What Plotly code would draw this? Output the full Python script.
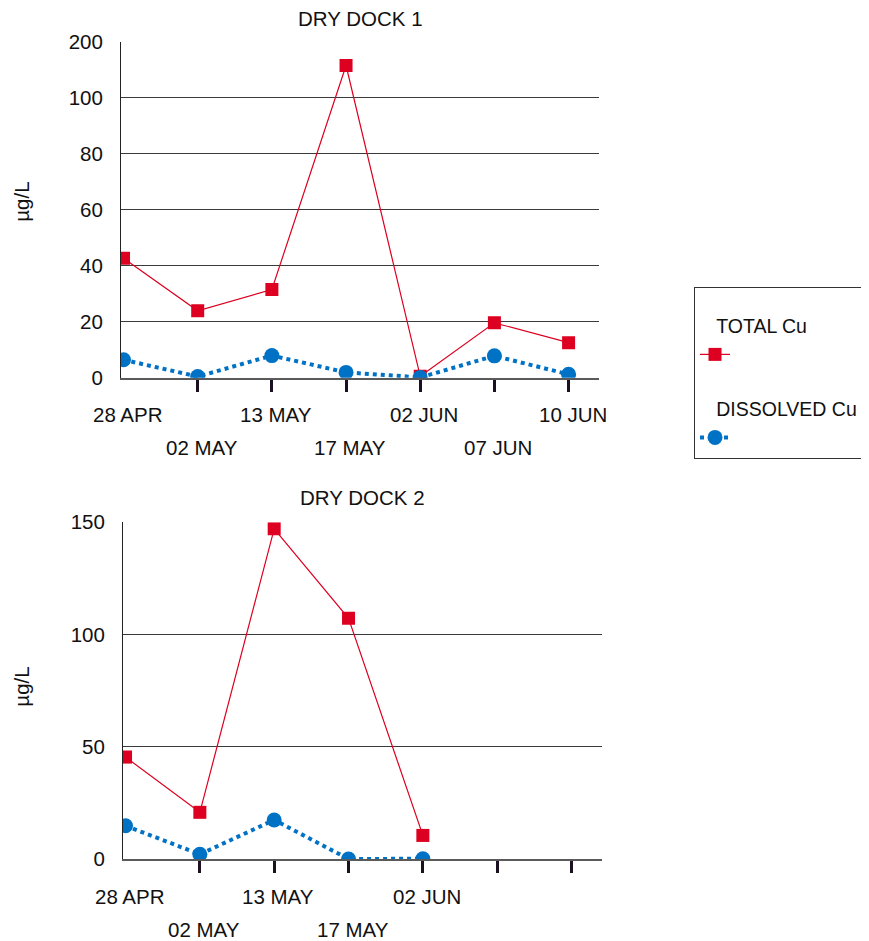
import plotly.graph_objects as go

# ---- data ----
categories = ["28 APR", "02 MAY", "13 MAY", "17 MAY", "02 JUN", "07 JUN", "10 JUN"]
dd1_total = [42.7, 23.9, 31.5, 111.5, 0.5, 19.6, 12.5]
dd1_dissolved = [6.4, 0.4, 7.9, 1.9, 0.1, 7.8, 1.2]
dd2_total = [45.4, 20.8, 147.1, 107.2, 10.5, None, None]
dd2_dissolved = [14.8, 2.1, 17.4, 0.0, 0.1, None, None]
dd1_labels = categories
dd2_labels = categories[:5]
dd1_yticks = [0, 20, 40, 60, 80, 100, 120]
dd1_yticktext = ["0", "20", "40", "60", "80", "100", "200"]
dd2_yticks = [0, 50, 100, 150]

RED = "#DD0020"
BLUE = "#0072C6"
FONT = "Liberation Sans, Arial, sans-serif"
FS = 20.5
OFF = 8                     # default page body margin
W, H = 869 - OFF, 941 - OFF
NB = "\u00a0"


def fx(px):  # page pixel x -> paper fraction
    return (px - OFF) / W


def fy(py):  # page pixel y -> paper fraction
    return 1 - (py - OFF) / H


fig = go.Figure()


def add_pair(total, diss, xa, ya, show):
    fig.add_trace(go.Scatter(
        x=categories, y=total, xaxis=xa, yaxis=ya, mode="lines+markers",
        line=dict(color=RED, width=1.2),
        marker=dict(symbol="square", size=13, color=RED),
        name=" ", legendgroup="total",
        legendgrouptitle_text=NB * 3 + "TOTAL Cu",
        showlegend=show, connectgaps=False))
    fig.add_trace(go.Scatter(
        x=categories, y=diss, xaxis=xa, yaxis=ya, mode="lines+markers",
        line=dict(color=BLUE, width=4, dash="dot"),
        marker=dict(symbol="circle", size=15, color=BLUE),
        name=" ", legendgroup="diss",
        legendgrouptitle_text=NB * 3 + "DISSOLVED Cu",
        showlegend=show, connectgaps=False))


add_pair(dd1_total, dd1_dissolved, "x", "y", True)
add_pair(dd2_total, dd2_dissolved, "x2", "y2", False)

xcommon = dict(type="category", categoryorder="array", categoryarray=categories,
               range=[-0.034, 6.41], showline=True, linecolor="#5a5a5a", linewidth=2,
               ticks="outside", tickvals=categories[1:], ticklen=12, tickwidth=3,
               tickcolor="#1a1020", showticklabels=False, showgrid=False, zeroline=False,
               fixedrange=True, automargin=False)
ycommon = dict(showline=True, linecolor="#222", linewidth=1, showgrid=True,
               gridcolor="#3a3a3a", gridwidth=1, zeroline=False, ticks="",
               ticklabelstandoff=13, automargin=False,
               tickfont=dict(size=FS, color="#111", family=FONT))

fig.update_layout(
    width=W, height=H, margin=dict(l=0, r=0, t=0, b=0, autoexpand=False),
    paper_bgcolor="white", plot_bgcolor="white",
    font=dict(family=FONT, size=FS, color="#111"),
    xaxis=dict(domain=[fx(121), fx(599)], anchor="y", **xcommon),
    yaxis=dict(domain=[fy(377.7), fy(41.7)], anchor="x", range=[0, 120],
               tickvals=dd1_yticks, ticktext=dd1_yticktext, **ycommon),
    xaxis2=dict(domain=[fx(123), fx(602)], anchor="y2", **xcommon),
    yaxis2=dict(domain=[fy(859), fy(522.3)], anchor="x2", range=[0, 150],
                tickvals=dd2_yticks, **ycommon),
    legend=dict(x=fx(694), y=fy(287), xanchor="left", yanchor="top",
                bgcolor="white", bordercolor="#333", borderwidth=1,
                traceorder="grouped", tracegroupgap=25,
                title=dict(text=" ", font=dict(size=14, family=FONT)),
                font=dict(size=FS, family=FONT, color="#111"),
                grouptitlefont=dict(size=19.5, family=FONT, color="#111")),
    showlegend=True,
)

tf = dict(size=FS, family=FONT, color="#111")
ann = []
for i, lab in enumerate(dd1_labels):
    ann.append(dict(x=lab, y=0, xref="x", yref="y", text=lab, showarrow=False,
                    xanchor="center", yanchor="middle",
                    xshift=4, yshift=-37 if i % 2 == 0 else -70, font=tf))
for i, lab in enumerate(dd2_labels):
    ann.append(dict(x=lab, y=0, xref="x2", yref="y2", text=lab, showarrow=False,
                    xanchor="center", yanchor="middle",
                    xshift=4, yshift=-37 if i % 2 == 0 else -70, font=tf))
ann.append(dict(x=0.5, y=1, xref="x domain", yref="y domain", text="DRY DOCK 1",
                xanchor="center", yanchor="middle", showarrow=False, yshift=23, font=tf))
ann.append(dict(x=0.5, y=1, xref="x2 domain", yref="y2 domain", text="DRY DOCK 2",
                xanchor="center", yanchor="middle", showarrow=False, yshift=25, font=tf))
ann.append(dict(x=fx(22), y=0.5, xref="paper", yref="y domain", text="µg/L",
                xanchor="center", yanchor="middle", textangle=-90, showarrow=False,
                yshift=8, font=tf))
ann.append(dict(x=fx(22), y=0.5, xref="paper", yref="y2 domain", text="µg/L",
                xanchor="center", yanchor="middle", textangle=-90, showarrow=False,
                yshift=4, font=tf))
fig.update_layout(annotations=ann)

fig.write_html("out.html")
